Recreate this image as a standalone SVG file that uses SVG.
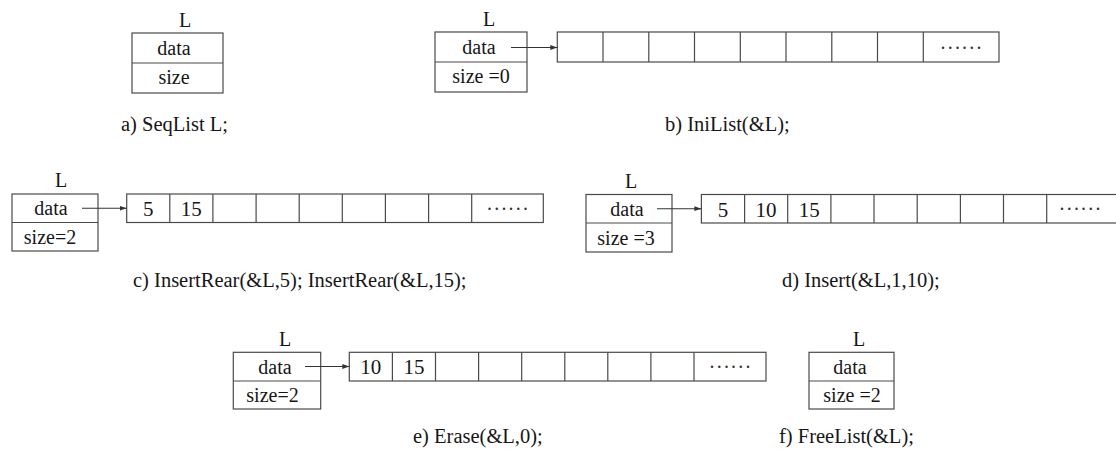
<svg xmlns="http://www.w3.org/2000/svg" width="1116" height="450" viewBox="0 0 1116 450">
<defs>
<marker id="ah" markerWidth="8" markerHeight="6" refX="7" refY="3" orient="auto" markerUnits="userSpaceOnUse">
<path d="M0,0.6 L7,3 L0,5.4 Z" fill="#333"/>
</marker>
<style>
.bx{fill:none;stroke:#4a4a4a;stroke-width:1.2}
.t{font-family:"Liberation Serif","Times New Roman",serif;font-size:20px;fill:#161616;text-anchor:middle}
.n{font-family:"Liberation Serif","Times New Roman",serif;font-size:21px;fill:#161616;text-anchor:middle}
.cap{font-family:"Liberation Serif","Times New Roman",serif;font-size:20.5px;fill:#161616}
.dots{font-family:"Liberation Serif","Times New Roman",serif;font-size:20px;fill:#333;letter-spacing:2.2px}
.ar{fill:none;stroke:#333;stroke-width:1.1;marker-end:url(#ah)}
</style>
</defs>
<rect width="1116" height="450" fill="#ffffff"/>

<!-- a) -->
<g id="nodeA">
<text class="t" x="185" y="27">L</text>
<rect class="bx" x="132" y="33" width="91" height="60"/>
<line class="bx" x1="132" y1="63" x2="223" y2="63"/>
<text class="t" x="174" y="55">data</text>
<text class="t" x="174" y="84">size</text>
</g>
<text class="cap" x="121" y="131">a) SeqList L;</text>

<!-- b) -->
<g id="nodeB">
<text class="t" x="489" y="26">L</text>
<rect class="bx" x="435" y="32" width="92" height="60"/>
<line class="bx" x1="435" y1="62" x2="527" y2="62"/>
<text class="t" x="479" y="54">data</text>
<text class="t" x="481" y="83">size =0</text>
</g>
<g id="arrayB">
<rect class="bx" x="557.3" y="32" width="441.7" height="30"/>
<path class="bx" d="M603,32V62M648.8,32V62M694.5,32V62M740.3,32V62M786,32V62M831.8,32V62M877.5,32V62M923.3,32V62"/>
<text class="dots" x="940.5" y="48.5">......</text>
</g>
<text class="cap" x="665" y="131">b) IniList(&amp;L);</text>

<!-- c) -->
<g id="nodeC">
<text class="t" x="61" y="187">L</text>
<rect class="bx" x="12" y="194" width="86" height="57"/>
<line class="bx" x1="12" y1="222.5" x2="98" y2="222.5"/>
<text class="t" x="51" y="215">data</text>
<text class="t" x="50" y="244">size=2</text>
</g>
<g id="arrayC">
<rect class="bx" x="126.7" y="194" width="416.6" height="28.5"/>
<path class="bx" d="M169.8,194V222.5M212.9,194V222.5M256.1,194V222.5M299.2,194V222.5M342.3,194V222.5M385.4,194V222.5M428.6,194V222.5M471.7,194V222.5"/>
<text class="n" x="148.2" y="215.5">5</text>
<text class="n" x="191.3" y="215.5">15</text>
<text class="dots" x="487" y="209.5">......</text>
</g>
<text class="cap" x="133" y="287">c) InsertRear(&amp;L,5); InsertRear(&amp;L,15);</text>

<!-- d) -->
<g id="nodeD">
<text class="t" x="631" y="188">L</text>
<rect class="bx" x="586" y="194.5" width="86" height="57.5"/>
<line class="bx" x1="586" y1="223" x2="672" y2="223"/>
<text class="t" x="627" y="216">data</text>
<text class="t" x="626" y="245">size =3</text>
</g>
<g id="arrayD">
<rect class="bx" x="701.4" y="194.5" width="418" height="28.5"/>
<path class="bx" d="M744.6,194.5V223M787.7,194.5V223M830.9,194.5V223M874,194.5V223M917.2,194.5V223M960.4,194.5V223M1003.5,194.5V223M1046.7,194.5V223"/>
<text class="n" x="723" y="216.5">5</text>
<text class="n" x="766.1" y="216.5">10</text>
<text class="n" x="809.3" y="216.5">15</text>
<text class="dots" x="1059.5" y="210">......</text>
</g>
<text class="cap" x="782" y="287">d) Insert(&amp;L,1,10);</text>

<!-- e) -->
<g id="nodeE">
<text class="t" x="285" y="346">L</text>
<rect class="bx" x="233.3" y="352.3" width="87.4" height="56.7"/>
<line class="bx" x1="233.3" y1="381" x2="320.7" y2="381"/>
<text class="t" x="275" y="374">data</text>
<text class="t" x="272.5" y="402">size=2</text>
</g>
<g id="arrayE">
<rect class="bx" x="349.3" y="352.3" width="416.7" height="28.7"/>
<path class="bx" d="M392.4,352.3V381M435.5,352.3V381M478.6,352.3V381M521.7,352.3V381M564.8,352.3V381M607.8,352.3V381M650.9,352.3V381M694,352.3V381"/>
<text class="n" x="370.8" y="374">10</text>
<text class="n" x="414" y="374">15</text>
<text class="dots" x="709.5" y="368">......</text>
</g>
<text class="cap" x="413" y="443">e) Erase(&amp;L,0);</text>

<!-- f) -->
<g id="nodeF">
<text class="t" x="859" y="346">L</text>
<rect class="bx" x="809" y="352.3" width="85" height="56.7"/>
<line class="bx" x1="809" y1="381" x2="894" y2="381"/>
<text class="t" x="850" y="373.5">data</text>
<text class="t" x="852" y="402">size =2</text>
</g>
<text class="cap" x="779" y="443">f) FreeList(&amp;L);</text>

<g id="connectors">
<line class="ar" x1="511" y1="47.5" x2="557.3" y2="47.5"/>
<line class="ar" x1="82" y1="208.3" x2="126.7" y2="208.3"/>
<line class="ar" x1="657" y1="208.7" x2="701.4" y2="208.7"/>
<line class="ar" x1="305" y1="366.5" x2="349.3" y2="366.5"/>
</g>
</svg>
